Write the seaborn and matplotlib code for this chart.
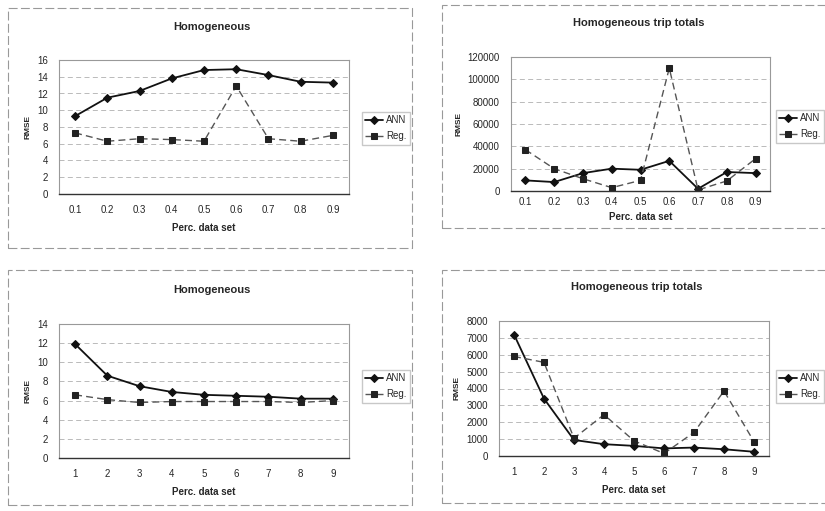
import matplotlib
matplotlib.use("Agg")
import matplotlib.pyplot as plt
import seaborn as sns
import pandas as pd
from matplotlib.patches import Rectangle

sns.set_style("white")
plt.rcParams['font.family'] = ['Liberation Sans', 'DejaVu Sans']

# ---- data ----
pct_labels = ["0.1", "0.2", "0.3", "0.4", "0.5", "0.6", "0.7", "0.8", "0.9"]
num_labels = ["1", "2", "3", "4", "5", "6", "7", "8", "9"]

tl_ann = [9.3, 11.5, 12.3, 13.8, 14.8, 14.9, 14.2, 13.4, 13.3]
tl_reg = [7.3, 6.3, 6.6, 6.5, 6.3, 12.9, 6.6, 6.3, 7.0]

tr_ann = [9500, 8000, 16000, 20000, 19000, 27000, 2000, 17000, 16000]
tr_reg = [37000, 20000, 11000, 3000, 9500, 110000, 1000, 9000, 29000]

bl_ann = [11.9, 8.6, 7.5, 6.9, 6.6, 6.5, 6.4, 6.2, 6.2]
bl_reg = [6.6, 6.1, 5.8, 5.9, 5.9, 5.9, 5.9, 5.8, 6.0]

br_ann = [7200, 3400, 950, 700, 600, 450, 500, 400, 250]
br_reg = [5900, 5550, 1050, 2450, 900, 150, 1400, 3850, 850]

titles = ["Homogeneous", "Homogeneous trip totals", "Homogeneous", "Homogeneous trip totals"]
series_names = ["ANN", "Reg."]

W, H = 825, 511
fig = plt.figure(figsize=(W / 100, H / 100), dpi=100)


def px(l, t, r, b):
    return [l / W, 1 - b / H, (r - l) / W, (b - t) / H]


panels = [
    dict(frame=(8, 8, 412, 248), plot=(59, 60, 349, 194), title_x=212, title_y=27,
         ann=tl_ann, reg=tl_reg, labels=pct_labels, ymax=16, ystep=2,
         leg=(362, 112), pad=8, lpad=6),
    dict(frame=(442, 5, 830, 228), plot=(511, 57, 770, 191), title_x=639, title_y=23,
         ann=tr_ann, reg=tr_reg, labels=pct_labels, ymax=120000, ystep=20000,
         leg=(776, 110), pad=4, lpad=4),
    dict(frame=(8, 270, 412, 505), plot=(59, 324, 349, 458), title_x=212, title_y=290,
         ann=bl_ann, reg=bl_reg, labels=num_labels, ymax=14, ystep=2,
         leg=(362, 370), pad=8, lpad=6),
    dict(frame=(442, 270, 830, 503), plot=(499, 321, 769, 456), title_x=637, title_y=287,
         ann=br_ann, reg=br_reg, labels=num_labels, ymax=8000, ystep=1000,
         leg=(776, 370), pad=8, lpad=6),
]

for i, p in enumerate(panels):
    fl, ft, fr, fb = p["frame"]
    fig.patches.append(Rectangle((fl / W, 1 - fb / H), (fr - fl) / W, (fb - ft) / H,
                                 transform=fig.transFigure, fill=False,
                                 edgecolor="#999999", lw=0.8, linestyle=(0, (8, 3))))
    ax = fig.add_axes(px(*p["plot"]))
    pos = list(range(1, 10))
    df = pd.DataFrame({
        "x": pos * 2,
        "y": p["ann"] + p["reg"],
        "s": [series_names[0]] * 9 + [series_names[1]] * 9,
    })
    sns.lineplot(data=df[df.s == "ANN"], x="x", y="y", ax=ax, color="#111111",
                 marker="D", markersize=4, lw=1.3, label="ANN",
                 markeredgecolor="#111111")
    sns.lineplot(data=df[df.s == "Reg."], x="x", y="y", ax=ax, color="#555555",
                 marker="s", markersize=5, lw=1.0, linestyle=(0, (5, 3)), label="Reg.",
                 markerfacecolor="#222222", markeredgecolor="#222222")
    ax.set_xlim(0.5, 9.5)
    ax.set_ylim(0, p["ymax"])
    ticks = list(range(0, p["ymax"] + 1, p["ystep"]))
    ax.set_yticks(ticks)
    ax.set_yticklabels([str(t) for t in ticks], fontsize=7)
    ax.set_xticks(pos)
    ax.set_xticklabels(p["labels"], fontsize=7)
    ax.tick_params(axis="y", length=0, pad=8)
    ax.tick_params(axis="x", length=0, pad=p["pad"])
    for t in ticks[1:-1]:
        ax.axhline(t, color="#b0b0b0", lw=0.6, linestyle=(0, (6, 4)), zorder=0)
    for s in ["top", "right", "left"]:
        ax.spines[s].set_color("#999999")
        ax.spines[s].set_linewidth(0.8)
    ax.spines["bottom"].set_color("#333333")
    ax.spines["bottom"].set_linewidth(1.0)
    ax.set_xlabel("Perc. data set", fontsize=7, fontweight="bold", labelpad=p["lpad"])
    ax.set_ylabel("RMSE", fontsize=6, fontweight="bold", labelpad=4)
    fig.text(p["title_x"] / W, 1 - p["title_y"] / H, titles[i], ha="center",
             va="center", fontsize=8, fontweight="bold")
    lx, ly = p["leg"]
    ax.legend(loc="upper left", bbox_to_anchor=(lx / W, 1 - ly / H),
              bbox_transform=fig.transFigure, fontsize=7, frameon=True,
              handlelength=1.8, handletextpad=0.3, borderpad=0.35,
              borderaxespad=0, labelspacing=0.6, fancybox=False,
              edgecolor="#bbbbbb")

fig.savefig("out.png", dpi=100)
